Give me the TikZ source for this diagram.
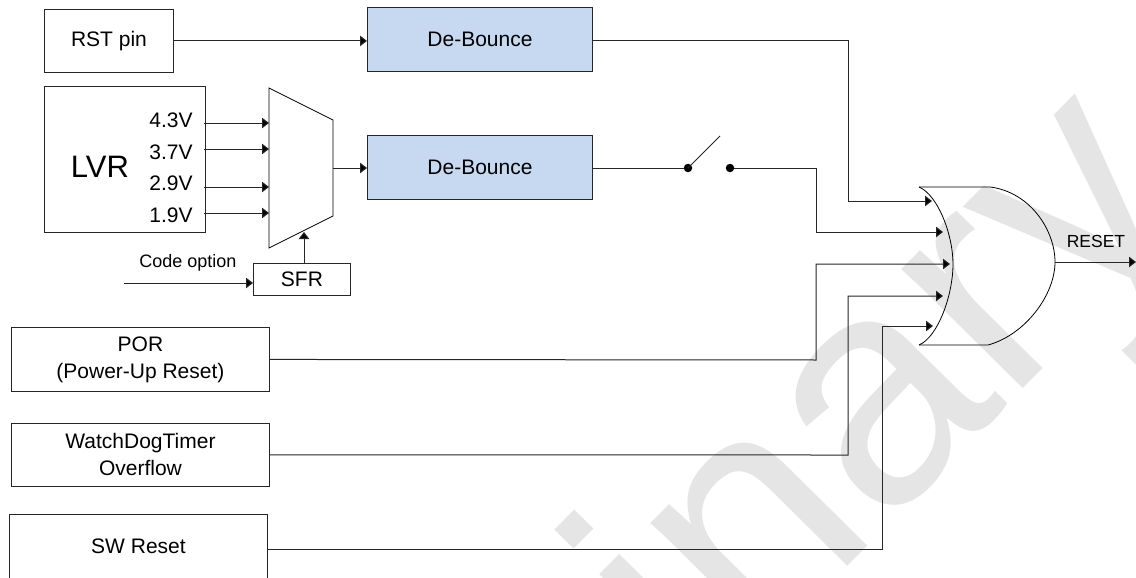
\documentclass[tikz,border=0pt]{standalone}
\usepackage{fontspec}
\setmainfont{Liberation Sans}
\usetikzlibrary{arrows.meta}
\tikzset{
  x=1pt,y=-1pt,
  box/.style={draw=black!85,line width=0.9pt,fill=white,rectangle,inner sep=0pt,anchor=north west,align=center,font=\fontsize{21}{27}\selectfont},
  blue box/.style={box,fill=blueA},
  lab/.style={inner sep=0pt,font=\fontsize{21}{25}\selectfont},
  wire/.style={draw=black!85,line width=1pt,-{Triangle[length=7pt,width=10.5pt,fill=black]}},
  plain/.style={draw=black!85,line width=1pt},
  gate/.style={draw=black,line width=0.8pt},
  dotc/.style={circle,fill=black,inner sep=0pt,minimum size=8.5pt},
}
\definecolor{blueA}{HTML}{C6D9F0}
\definecolor{wm}{HTML}{E5E5E5}
\begin{document}
\begin{tikzpicture}
\useasboundingbox (0,0) rectangle (1136,578);
\clip (0,0) rectangle (1136,578);
\fill[white] (0,0) rectangle (1136,578);
% watermark
\node[rotate=45.3,anchor=base east,inner sep=0pt,text=wm,font=\fontsize{322}{322}\selectfont] (wmark) at (1197,213) {Preliminary};
% boxes
\node[box,minimum width=129pt,minimum height=63pt] (rst) at (44,9) {RST pin};
\node[box,minimum width=161pt,minimum height=146pt] (lvr) at (44,86) {};
\node[lab,font=\fontsize{31}{35}\selectfont] (lvrt) at (100,167) {LVR};
\node[lab] (v43) at (171,120) {4.3V};
\node[lab] (v37) at (171,152) {3.7V};
\node[lab] (v29) at (171,183) {2.9V};
\node[lab] (v19) at (171,215) {1.9V};
\node[blue box,minimum width=225pt,minimum height=64pt] (db1) at (367,7) {De-Bounce};
\node[blue box,minimum width=225pt,minimum height=64pt] (db2) at (367,135) {De-Bounce};
\node[box,minimum width=97pt,minimum height=32pt] (sfr) at (253,263) {SFR};
\node[lab,font=\fontsize{18}{22}\selectfont] (code) at (188,263) {Code option};
\node[box,minimum width=258pt,minimum height=64pt] (por) at (11,327) {POR\\(Power-Up Reset)};
\node[box,minimum width=258pt,minimum height=63pt] (wdt) at (11,423) {WatchDogTimer\\Overflow};
\node[box,minimum width=258pt,minimum height=64pt] (sw) at (9,514) {SW Reset};
\node[lab,font=\fontsize{17.5}{20}\selectfont] (rlab) at (1096,241) {RESET};
% mux
\coordinate (m1) at (269,88);
\coordinate (m2) at (333,120);
\coordinate (m3) at (333,216);
\coordinate (m4) at (269,248);
\draw[gate,fill=white] (m1) -- (m2) -- (m3) -- (m4) -- cycle;
% LVR to mux
\foreach \y/\n in {123/a,149/b,187/c,213/d}{
  \coordinate (s\n) at (204,\y);
  \coordinate (t\n) at (269,\y);
  \draw[wire] (s\n) -- (t\n);
}
\coordinate (mo) at (333,168);
\draw[wire] (mo) -- (mo -| db2.west);
\coordinate (sfrtop) at (304,263);
\coordinate (muxin) at (304,232);
\draw[wire] (sfrtop) -- (muxin);
\coordinate (codein) at (124,283);
\draw[wire] (codein) -- (codein -| sfr.west);
\draw[wire] (rst.east) -- (rst.east -| db1.west);
% switch
\node[dotc] (sa) at (688,168) {};
\node[dotc] (sb) at (730,168) {};
\coordinate (blade) at (720,136);
\draw[plain,line width=0.8pt] (sa.center) -- (blade);
\draw[plain] (db2.east |- sa) -- (sa);
% or gate
\coordinate (gtl) at (919,187);
\coordinate (gbl) at (919,345);
\coordinate (gtr) at (990,187);
\coordinate (gbr) at (988,345);
\coordinate (gout) at (1055,262);
\coordinate (gback) at (953,264);
\draw[gate] (gtl) -- (gtr) .. controls (1030,192) and (1055,230) .. (gout) .. controls (1055,295) and (1025,335) .. (gbr) -- (gbl);
\draw[gate] (gtl) .. controls (938,195) and (953,235) .. (gback) .. controls (953,295) and (938,337) .. (gbl);
% gate wires
\coordinate (i1) at (932,201);
\coordinate (i2) at (943,232);
\coordinate (i3) at (950,264);
\coordinate (i4) at (943,296);
\coordinate (i5) at (933,326);
\coordinate (o) at (1136,262);
\draw[wire] (db1.east |- 0,41) -- (848,41) |- (i1);
\draw[wire] (sb) -- (816,168) |- (i2);
\draw[wire] (por.east) -- (816,360) |- (i3);
\draw[wire] (wdt.east) -- (848,455) |- (i4);
\draw[wire] (sw.east |- 0,549) -- (882,549) |- (i5);
\draw[wire] (gout) -- (o);
\end{tikzpicture}
\end{document}
